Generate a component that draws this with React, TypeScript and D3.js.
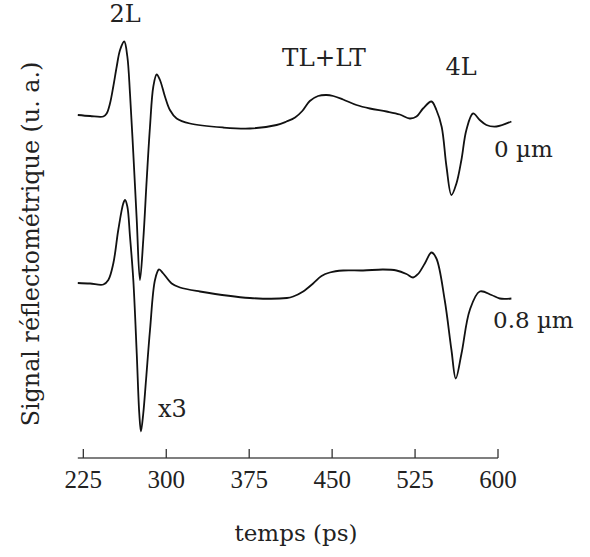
import React from "react";
import * as d3 from "d3";

const tickValues = [225, 300, 375, 450, 525, 600];

// trace 0 µm (time in ps, signal in a.u.)
const time0 = [220, 231.1, 243.1, 246.1, 249.1, 252.1, 255.2, 258.2, 262.0, 264.8, 267.2, 270.2, 273.3, 276.2, 279.2, 282.3, 285.3, 288.3, 291.3, 294.3, 298.8, 303.3, 309.4, 321.4, 351.5, 375.6, 399.8, 408.8, 416.5, 423.0, 429.8, 437.3, 444.9, 451.0, 459.9, 472.0, 484.1, 499.2, 511.2, 520.2, 526.3, 532.2, 539.8, 544.3, 549.1, 553.4, 557.9, 562.4, 566.9, 571.4, 577.4, 583.5, 589.5, 598.6, 612.1];
const signal0 = [0.02, 0.0, -0.01, 0.05, 0.25, 0.59, 0.99, 1.32, 1.49, 1.19, 0.45, -0.75, -2.08, -3.28, -2.48, -1.28, -0.21, 0.59, 0.83, 0.72, 0.39, 0.12, -0.05, -0.15, -0.23, -0.25, -0.18, -0.11, -0.03, 0.10, 0.30, 0.40, 0.42, 0.40, 0.33, 0.22, 0.15, 0.09, 0.03, -0.05, -0.01, 0.15, 0.29, 0.12, -0.22, -1.01, -1.58, -1.35, -0.88, -0.28, 0.05, -0.08, -0.18, -0.21, -0.11];

// trace 0.8 µm (x3)
const time1 = [220, 231.1, 243.1, 247.6, 252.1, 256.6, 261.1, 262.7, 264.8, 267.2, 270.2, 273.3, 275.6, 277.1, 279.2, 281.7, 285.3, 289.8, 293.4, 297.3, 304.9, 312.4, 330.4, 375.6, 409.1, 414.8, 423.8, 432.8, 440.4, 447.9, 459.9, 478.0, 496.1, 508.2, 517.2, 523.2, 527.7, 533.8, 539.8, 544.3, 551.8, 557.9, 561.8, 567.0, 574.5, 583.5, 594.1, 601.6, 612.1];
const signal1 = [0.02, 0.01, -0.01, 0.08, 0.41, 1.08, 1.61, 1.68, 1.55, 0.95, 0.08, -1.39, -2.59, -2.95, -2.59, -1.92, -0.92, 0.08, 0.29, 0.21, 0.01, -0.07, -0.15, -0.28, -0.28, -0.25, -0.15, 0.01, 0.16, 0.23, 0.27, 0.27, 0.29, 0.27, 0.20, 0.13, 0.20, 0.41, 0.63, 0.51, -0.32, -1.32, -1.89, -1.39, -0.52, -0.15, -0.22, -0.29, -0.29];

const offsets = [0, -3.36];

const W = 590;
const H = 557;
const FONT_NUM = '"Liberation Serif", serif';
const FONT_TXT = '"DejaVu Serif", serif';

export default function App() {
  const x = d3.scaleLinear().domain([220, 600]).range([77.8, 498]);
  const y = d3.scaleLinear().domain([-6.84, 1.92]).range([458, 20]);
  const axisY = y(-6.84);

  const line = d3
    .line<[number, number]>()
    .x((d) => x(d[0]))
    .y((d) => y(d[1]))
    .curve(d3.curveCatmullRom.alpha(0.5));

  const series = [
    time0.map((t, i) => [t, signal0[i] + offsets[0]] as [number, number]),
    time1.map((t, i) => [t, signal1[i] + offsets[1]] as [number, number]),
  ];

  const tn = { fontFamily: FONT_NUM, fill: "#222" } as React.CSSProperties;
  const tt = { fontFamily: FONT_TXT, fill: "#222" } as React.CSSProperties;

  return (
    <svg
      width={W}
      height={H}
      style={{ position: "absolute", left: 0, top: 0, background: "#fff" }}
    >
      {series.map((s, i) => (
        <path key={i} d={line(s) || ""} fill="none" stroke="#111" strokeWidth={1.8} strokeLinejoin="round" />
      ))}

      {/* x axis */}
      <line x1={x(220)} x2={x(600)} y1={axisY} y2={axisY} stroke="#555" strokeWidth={1.4} />
      {tickValues.map((t) => (
        <g key={t}>
          <line x1={x(t)} x2={x(t)} y1={axisY} y2={axisY - 9} stroke="#333" strokeWidth={1.3} />
          <text x={x(t)} y={488} textAnchor="middle" fontSize={25} style={tn}>
            {t}
          </text>
        </g>
      ))}

      <text x={296} y={541} textAnchor="middle" fontSize={23} style={tt}>
        temps (ps)
      </text>
      <text
        transform={`translate(39,244) rotate(-90)`}
        textAnchor="middle"
        fontSize={23.8}
        style={tt}
      >
        Signal réflectométrique (u. a.)
      </text>

      <text x={125} y={22} textAnchor="middle" fontSize={24} style={tt}>2L</text>
      <text x={324} y={66} textAnchor="middle" fontSize={24.5} style={tt}>TL+LT</text>
      <text x={461} y={75} textAnchor="middle" fontSize={24} style={tt}>4L</text>
      <text x={494} y={157} fontSize={23} style={tt}>0 µm</text>
      <text x={493} y={328} fontSize={23} style={tt}>0.8 µm</text>
      <text x={158} y={417} fontSize={24} style={tt}>x3</text>
    </svg>
  );
}
